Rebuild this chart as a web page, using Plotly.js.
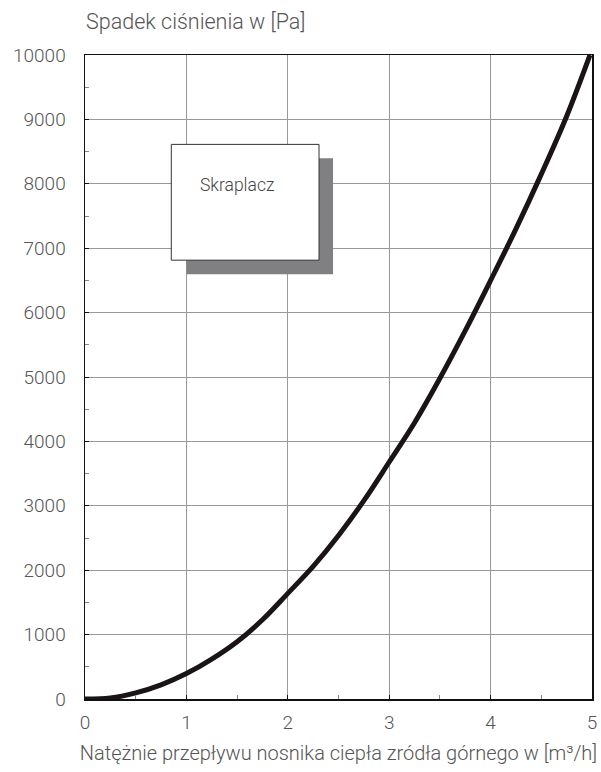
<!DOCTYPE html>
<html>
<head>
<meta charset="utf-8">
<script src="https://cdn.plot.ly/plotly-3.0.1.min.js"></script>
<style>html,body{margin:0;padding:0;background:#fff;}</style>
</head>
<body>
<div id="chart" style="width:601px;height:772px;"></div>
<script>
// Flow rate [m3/h]
const flow = [0, 0.25, 0.5, 0.75, 1, 1.25, 1.5, 1.75, 2, 2.25, 2.5, 2.75, 3, 3.25, 3.5, 3.75, 4, 4.25, 4.5, 4.75, 4.98];
// Pressure drop [Pa]
const pressureDrop = [0, 15, 95, 220, 395, 620, 890, 1230, 1640, 2060, 2540, 3080, 3680, 4290, 4980, 5720, 6500, 7300, 8150, 9050, 10000];
const xTicks = [0, 1, 2, 3, 4, 5];
const yTicks = [0, 1000, 2000, 3000, 4000, 5000, 6000, 7000, 8000, 9000, 10000];
const yTitle = 'Spadek ciśnienia w [Pa]';
const xTitle = 'Natężnie przepływu nosnika ciepła zródła górnego w [m³/h]';
const boxLabel = 'Skraplacz';

const textColor = '#555';
const fontFam = 'Roboto, Liberation Sans, Arial, sans-serif';

const trace = {
  x: flow, y: pressureDrop, type: 'scatter', mode: 'lines',
  line: {color: '#1a1416', width: 5, shape: 'spline'},
  hoverinfo: 'skip'
};

const layout = {
  width: 601, height: 772,
  margin: {l: 84.5, r: 8.5, t: 54.5, b: 72.5},
  paper_bgcolor: '#fff', plot_bgcolor: '#fff',
  showlegend: false,
  font: {family: fontFam, color: textColor, size: 18, weight: 300},
  xaxis: {
    range: [0, 5], tickvals: xTicks, ticktext: xTicks.map(String),
    showgrid: true, gridcolor: '#999', gridwidth: 1,
    showline: true, linecolor: '#111', linewidth: 1.5, mirror: true,
    ticks: 'inside', ticklen: 4, tickcolor: '#111',
    minor: {dtick: 0.5, ticks: 'inside', ticklen: 4, tickcolor: '#888', showgrid: false},
    zeroline: false, ticklabelstandoff: 6,
    tickfont: {size: 19, color: textColor, family: fontFam, weight: 300},
    title: {text: xTitle, font: {size: 20, color: textColor, family: fontFam, weight: 300}, standoff: 12}
  },
  yaxis: {
    range: [0, 10000], tickvals: yTicks, ticktext: yTicks.map(String),
    showgrid: true, gridcolor: '#999', gridwidth: 1,
    showline: true, linecolor: '#111', linewidth: 1.5, mirror: true,
    ticks: 'inside', ticklen: 4, tickcolor: '#111',
    minor: {dtick: 500, ticks: 'inside', ticklen: 4, tickcolor: '#888', showgrid: false},
    zeroline: false, ticklabelstandoff: 14,
    tickfont: {size: 19, color: textColor, family: fontFam, weight: 300}
  },
  shapes: [
    {type: 'rect', xref: 'x', yref: 'y', x0: 0.999, x1: 2.446, y0: 6597, y1: 8395,
     fillcolor: '#808082', line: {width: 0}, layer: 'above'},
    {type: 'rect', xref: 'x', yref: 'y', x0: 0.851, x1: 2.308, y0: 6814, y1: 8612,
     fillcolor: '#ffffff', line: {color: '#333', width: 1}, layer: 'above'}
  ],
  annotations: [
    {text: yTitle, xref: 'paper', yref: 'paper', x: 0, y: 1, xanchor: 'left', yanchor: 'bottom',
     yshift: 19, xshift: -1, showarrow: false, font: {size: 21.5, color: textColor, family: fontFam, weight: 300}},
    {text: boxLabel, xref: 'x', yref: 'y', x: 1.115, y: 7980, xanchor: 'left', yanchor: 'middle',
     showarrow: false, font: {size: 17.5, color: '#444', family: fontFam, weight: 300}}
  ]
};

Plotly.newPlot('chart', [trace], layout, {displayModeBar: false, staticPlot: true});
</script>
</body>
</html>
